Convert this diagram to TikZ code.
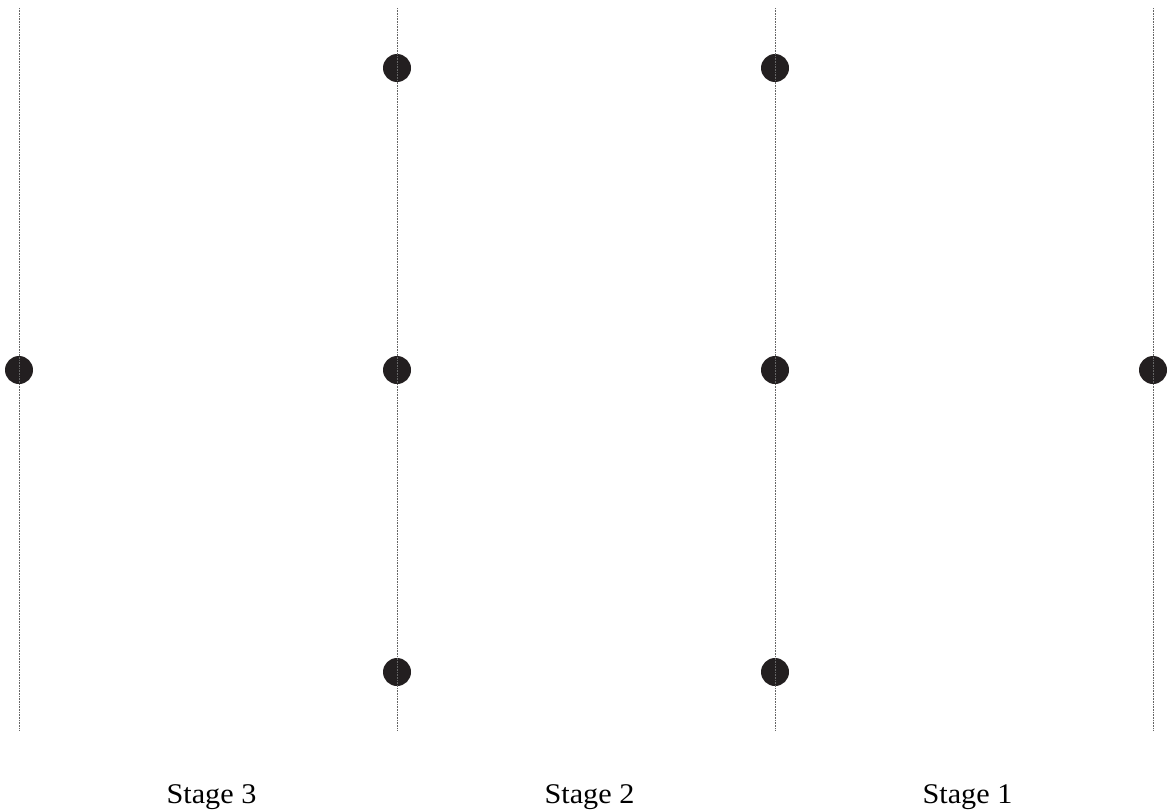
\documentclass[tikz,border=0pt]{standalone}
\usepackage{fontspec}
\setmainfont{Liberation Serif}
\definecolor{dotc}{HTML}{231F20}
\begin{document}
\begin{tikzpicture}[x=1pt,y=-1pt,
  stagedot/.style={circle,fill=dotc,minimum size=28pt,inner sep=0pt},
  guide/.style={draw=black!60,line width=0.6pt,dash pattern=on 0.8pt off 0.8pt},
  stagelabel/.style={font=\fontsize{28.5}{30}\selectfont,anchor=base,inner sep=0pt,xscale=1.06}]
\useasboundingbox (0,0) rectangle (1173,811);
\foreach \i/\x in {0/19,1/397,2/775,3/1153}{
  \coordinate (t\i) at (\x,8);
  \coordinate (b\i) at (\x,730);
}
\node[stagedot] (m0) at (19,370) {};
\node[stagedot] (m3) at (1153,370) {};
\foreach \i/\x in {1/397,2/775}{
  \node[stagedot] (u\i) at (\x,68) {};
  \node[stagedot] (m\i) at (\x,370) {};
  \node[stagedot] (d\i) at (\x,672) {};
}
\foreach \i in {0,1,2,3}{\draw[guide] (t\i) -- (b\i);}
\node[stagelabel] (s3) at (211.5,803.5) {Stage 3};
\node[stagelabel] (s2) at (589.5,803.5) {Stage 2};
\node[stagelabel] (s1) at (967.5,803.5) {Stage 1};
\end{tikzpicture}
\end{document}
